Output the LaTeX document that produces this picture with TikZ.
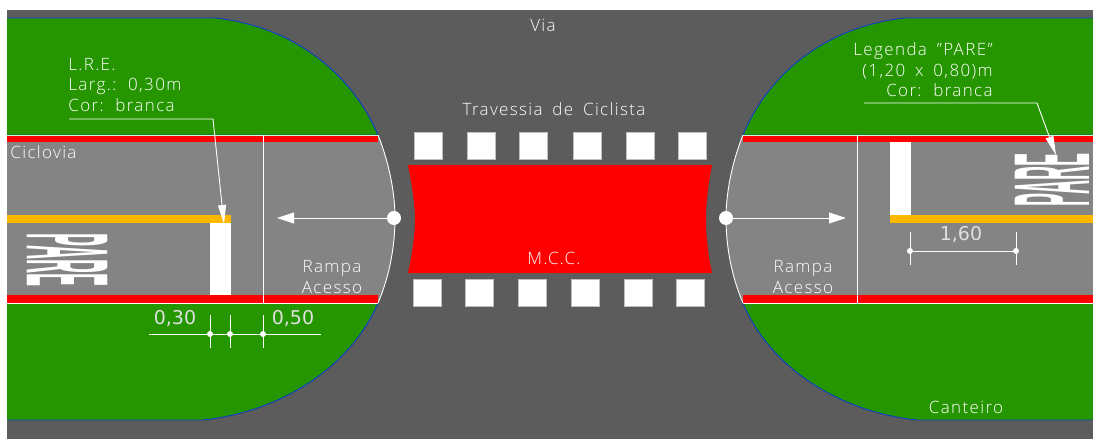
\documentclass[tikz,border=0pt]{standalone}
\usepackage{fontspec}
\setmainfont[LetterSpace=8,WordSpace=1.7]{Open Sans Light}
\newfontfamily\dimfont{DejaVu Sans}
\newfontfamily\parefont{Liberation Sans}
\usetikzlibrary{arrows.meta}
\definecolor{pista}{RGB}{92,92,92}
\definecolor{ciclo}{RGB}{132,132,132}
\definecolor{canteiro}{RGB}{38,150,0}
\definecolor{amarelo}{RGB}{255,184,0}
\definecolor{azul}{RGB}{10,60,200}
\begin{document}
\begin{tikzpicture}[x=1pt,y=-1pt,
  thick,
  label node/.style={text=white,font=\fontsize{17}{20.5}\selectfont,inner sep=0pt,align=left},
  dim node/.style={text=white!88!black,font=\dimfont\fontsize{19}{21}\selectfont,inner sep=0pt},
  pare node/.style={text=white,font=\parefont\bfseries\fontsize{30}{30}\selectfont,inner sep=0pt},
  square node/.style={fill=white,draw=white!75!black,line width=0.5pt,inner sep=0pt,minimum width=28pt,minimum height=27pt},
  dot/.style={circle,fill=white,inner sep=0pt,minimum size=6pt},
  thin line/.style={draw=white,line width=0.9pt},
  pointer/.style={draw=white,line width=0.9pt,-{Triangle[fill=white,length=17pt,width=11pt]}},
  callout/.style={draw=white,line width=0.9pt,-{Triangle[fill=white,length=19pt,width=8pt]}}]

  \useasboundingbox (0,0) rectangle (1093,439);
  \fill[pista] (7,10) rectangle (1093,439);

  % canteiros
  \path[fill=canteiro,draw=azul,line width=0.9pt] (7,18) -- (215,18) .. controls (290,26) and (350,70) .. (378,135) -- (7,135);
  \path[fill=canteiro,draw=azul,line width=0.9pt] (7,420) -- (203,420) .. controls (280,412) and (350,368) .. (378,303) -- (7,303);
  \path[fill=canteiro,draw=azul,line width=0.9pt] (1093,18) -- (905,18) .. controls (830,26) and (770,70) .. (743,135) -- (1093,135);
  \path[fill=canteiro,draw=azul,line width=0.9pt] (1093,420) -- (917,420) .. controls (840,412) and (770,368) .. (743,303) -- (1093,303);

  % ciclovia
  \path[fill=ciclo] (7,135) -- (378,135) .. controls (390,165) and (395,195) .. (395,218) .. controls (395,245) and (390,275) .. (378,303) -- (7,303) -- cycle;
  \path[fill=ciclo] (1093,135) -- (743,135) .. controls (731,165) and (726,195) .. (726,218) .. controls (726,245) and (731,275) .. (743,303) -- (1093,303) -- cycle;
  \draw[thin line] (378,135) .. controls (390,165) and (395,195) .. (395,218) .. controls (395,245) and (390,275) .. (378,303);
  \draw[thin line] (743,135) .. controls (731,165) and (726,195) .. (726,218) .. controls (726,245) and (731,275) .. (743,303);

  % faixas
  \fill[red] (7,135) rectangle (378,142);
  \fill[red] (7,295) rectangle (378,303);
  \fill[red] (743,135) rectangle (1093,142);
  \fill[red] (743,295) rectangle (1093,303);
  \draw[white!80!green,line width=0.8pt] (7,135) -- (378,135) (743,135) -- (1093,135);
  \draw[white,line width=0.8pt] (7,303) -- (378,303) (743,303) -- (1093,303);
  \fill[amarelo] (7,215) rectangle (231,223);
  \fill[amarelo] (890,215) rectangle (1093,223);
  \fill[white] (210,223) rectangle (231,295);
  \fill[white] (890,142) rectangle (911,215);
  \draw[thin line] (263,135) -- (263,303);
  \draw[thin line] (857,135) -- (857,303);

  % travessia
  \path[fill=red] (408,165) -- (712,165) .. controls (708,185) and (706,205) .. (706,219) .. controls (706,235) and (708,255) .. (712,273) -- (408,273) .. controls (412,255) and (415,235) .. (415,219) .. controls (415,205) and (412,185) .. (408,165) -- cycle;
  \foreach \x [count=\i] in {428.5,481,533.5,587,640,692}
    \node[square node] (t\i) at (\x,145.5) {};
  \foreach \x [count=\i] in {427,479.5,532,585.5,638,690.5}
    \node[square node] (b\i) at (\x,292.5) {};

  % setas
  \node[circle,fill=white,inner sep=0pt,minimum size=14pt] (ce) at (394,218) {};
  \node[circle,fill=white,inner sep=0pt,minimum size=14pt] (de) at (726,218) {};
  \coordinate (ceend) at (277,218);
  \coordinate (deend) at (846,218);
  \draw[pointer] (ce) -- (ceend);
  \draw[pointer] (de) -- (deend);

  % chamadas
  \coordinate (lrea) at (69,119);
  \coordinate (lreb) at (213,119);
  \coordinate (lrec) at (224,224);
  \draw[callout] (lrea) -- (lreb) -- (lrec);
  \coordinate (parea) at (864,103);
  \coordinate (pareb) at (1037,103);
  \coordinate (parec) at (1056,155);
  \draw[callout] (parea) -- (pareb) -- (parec);

  % cotas
  \coordinate (ca) at (149,334);
  \coordinate (cb) at (321,334);
  \draw[thin line] (ca) -- (cb);
  \foreach \x [count=\i] in {210,230,263} {
    \node[dot] (c\i) at (\x,334) {};
    \draw[thin line] (\x,315) -- (\x,348);
  }
  \node[dot] (da) at (910,251) {};
  \node[dot] (db) at (1016,251) {};
  \draw[thin line] (da) -- (db);
  \draw[thin line] (910,232) -- (910,265);
  \draw[thin line] (1016,232) -- (1016,265);

  % textos
  \node[label node] (via) at (543,25) {Via};
  \node[label node] (trav) at (554,109) {Travessia de Ciclista};
  \node[label node] (mcc) at (554,258) {M.C.C.};
  \node[label node,anchor=west] (lre) at (68,85) {L.R.E.\\Larg.: 0,30m\\Cor: branca};
  \node[label node,anchor=west] (cicl) at (10,152) {Ciclovia};
  \node[label node,align=center] (rampae) at (332,277) {Rampa\\Acesso};
  \node[label node,align=center] (rampad) at (803,277) {Rampa\\Acesso};
  \node[label node,align=right,anchor=east] (leg) at (993,70) {Legenda "PARE"\\(1,20 x 0,80)m\\Cor: branca};
  \node[label node] (cant) at (966,407) {Canteiro};
  \node[dim node] (d30) at (175,319) {0,30};
  \node[dim node] (d50) at (293,319) {0,50};
  \node[dim node] (d160) at (961,235) {1,60};
  \node[pare node,rotate=-90] (parel) at (67,260) {\scalebox{0.65}[3.9]{PARE}};
  \node[pare node,rotate=90] (parer) at (1052,180) {\scalebox{0.65}[3.6]{PARE}};
\end{tikzpicture}
\end{document}
